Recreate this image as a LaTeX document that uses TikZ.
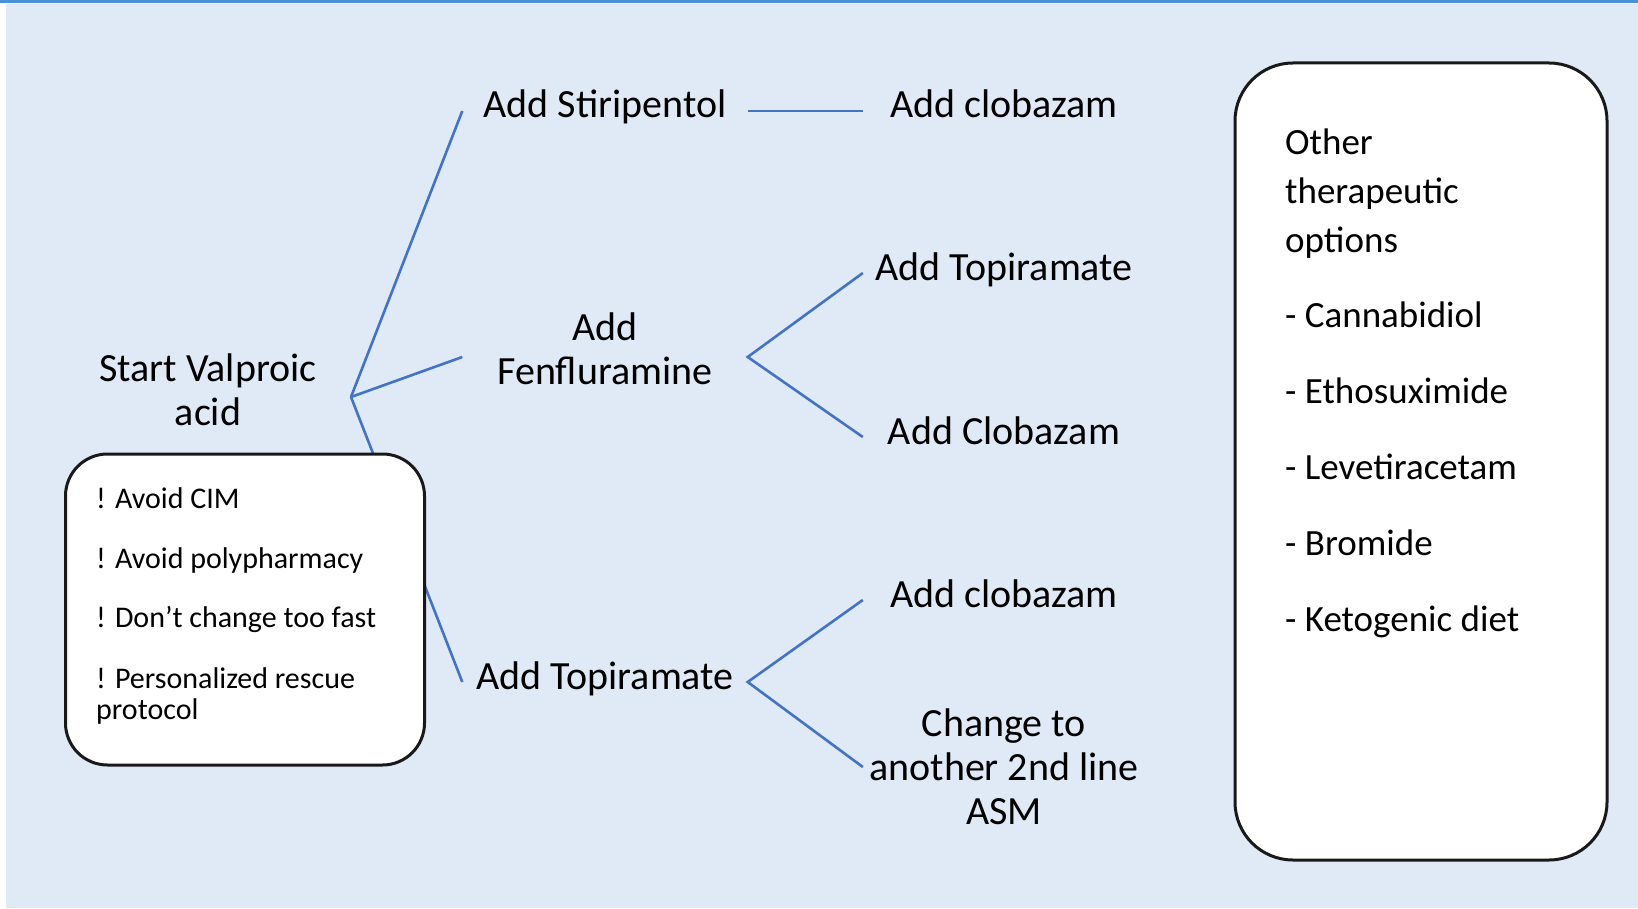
\documentclass[tikz,border=0pt]{standalone}
\usepackage{fontspec}
\setmainfont{Carlito}
\definecolor{pagebg}{HTML}{E0EAF6}
\definecolor{topbar}{HTML}{4A90D9}
\definecolor{branchblue}{HTML}{4472C4}

\begin{document}
\begin{tikzpicture}[
        x=1pt, y=-1pt,
        every node/.style={inner sep=0pt},
        drug/.style={font=\fontsize{40}{44}\selectfont, minimum width=285pt},
        single/.style={text height=26pt, text depth=12pt},
        branch/.style={draw=branchblue, line width=2.6pt},
        note/.style={draw=black!90, line width=3pt, fill=white, rounded corners=42pt},
        notetext/.style={font=\fontsize{30}{31}\selectfont, align=left, anchor=north west},
        optiontext/.style={font=\fontsize{37}{49}\selectfont, align=left, anchor=north west}
    ]

    % page
    \useasboundingbox (0,0) rectangle (1638,909);
    \fill[pagebg] (6,4) rectangle (1638,908);
    \fill[topbar] (0,0) rectangle (1638,3);

    % first line and its branches
    \node (start) [font=\fontsize{40}{44}\selectfont, align=center] at (208,390) {Start Valproic\\acid};
    \coordinate (split) at (351,397);

    \node (stir) [drug, single] at (605,111) {Add Stiripentol};
    \node (fen) [drug, align=center] at (605,349) {Add\\Fenfluramine};
    \node (topi) [drug, single] at (605,682) {Add Topiramate};

    \node (clobA) [drug, single, minimum width=282pt] at (1004,111) {Add clobazam};
    \node (topiB) [drug, single, minimum width=282pt] at (1004,273) {Add Topiramate};
    \node (clobB) [drug, single, minimum width=282pt] at (1004,437) {Add Clobazam};
    \node (clobC) [drug, single, minimum width=282pt] at (1004,600) {Add clobazam};
    \node (change) [drug, align=center, minimum width=282pt] at (1004,767) {Change to\\another 2nd line\\ASM};

    \draw[branch] (split) -- (stir.west);
    \draw[branch] (split) -- ([yshift=-8pt]fen.west);
    \draw[branch] (split) -- (topi.west);
    \draw[branch] (stir.east) -- (clobA.west);
    \draw[branch] (topiB.west) -- ([yshift=-8pt]fen.east) -- (clobB.west);
    \draw[branch] (clobC.west) -- (topi.east) -- (change.west);

    % warnings
    \node (warn) [note, minimum width=359pt, minimum height=311pt] at (245,609.5) {};
    \node (warnlist) [notetext] at (96,487) {! Avoid CIM\\[29pt]! Avoid polypharmacy\\[28pt]! Don’t change too fast\\[30pt]! Personalized rescue\\protocol};

    % other options
    \node (other) [note, rounded corners=58pt, minimum width=372pt, minimum height=797pt] at (1421,461.5) {};
    \node (otherlist) [optiontext] at (1285,129) {Other\\therapeutic\\options\\[26pt]- Cannabidiol\\[27pt]- Ethosuximide\\[27pt]- Levetiracetam\\[27pt]- Bromide\\[27pt]- Ketogenic diet};

\end{tikzpicture}
\end{document}
